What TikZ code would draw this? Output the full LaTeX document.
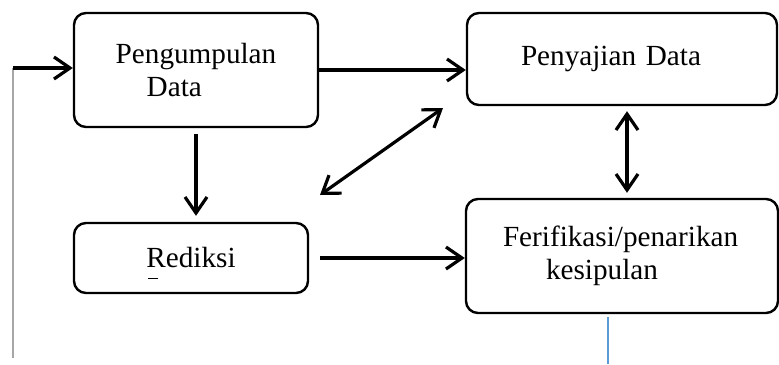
\documentclass[tikz,border=0pt]{standalone}
\usepackage{fontspec}
\setmainfont{Liberation Serif}
\usepackage{xcolor}
\usepackage{tikz}
\usetikzlibrary{positioning}
\usetikzlibrary{arrows.meta}

\definecolor{garisbiru}{RGB}{91,155,213}

\begin{document}
\begin{tikzpicture}[%
		x=0.5pt,y=-0.5pt,
		font=\fontsize{14.6}{16.5}\selectfont,
		>={Straight Barb[length=8pt,width=11pt]}]
		\tikzstyle{tahap}=[draw,line width=1.2pt,rounded corners=6pt,inner sep=0pt]
		\tikzstyle{alur}=[line width=1.6pt]
		\useasboundingbox (0,0) rectangle (779,364);
		% kotak
		\node[tahap,minimum width=122pt,minimum height=57pt,align=left] (kumpul) at (196,70)
			{Pengumpulan\\\hspace*{15.5pt}Data};
		\node[tahap,minimum width=155pt,minimum height=46pt,text width=101pt,align=left] (saji) at (622,59)
			{Penyajian Data};
		\node[tahap,minimum width=117pt,minimum height=35pt] (reduksi) at (191,258) {Rediksi};
		\node[tahap,minimum width=156pt,minimum height=57pt,text width=119pt,align=left] (verif) at (622,256)
			{\mbox{Ferifikasi/penarikan}\\\hspace*{21.5pt}kesipulan};
		\draw[line width=0.5pt] (148,278) -- (158,278);
		% garis
		\coordinate (masuk) at (13,68);
		\coordinate (bawah) at (13,358);
		\draw[gray!70,line width=0.8pt] (masuk) -- (bawah);
		\draw[alur,->] (masuk) -- (masuk -| kumpul.west);
		\draw[alur,->] (kumpul.east) -- (kumpul.east -| saji.west);
		\draw[alur,->,shorten <=3pt,shorten >=3pt] (kumpul.south) -- (kumpul.south |- reduksi.north);
		\draw[alur,->,shorten <=5.5pt] (reduksi.east) -- (reduksi.east -| verif.west);
		\coordinate (d1) at (320,195);
		\coordinate (d2) at (443,108);
		\draw[alur,<->] (d1) -- (d2);
		\draw[alur,<->,shorten <=2.5pt,shorten >=2.5pt] ([xshift=2.5pt]saji.south) -- ([xshift=2.5pt]verif.north);
		\coordinate (hilir) at (608,317);
		\draw[garisbiru,line width=0.8pt] (hilir) -- (608,364);
	\end{tikzpicture}
\end{document}
